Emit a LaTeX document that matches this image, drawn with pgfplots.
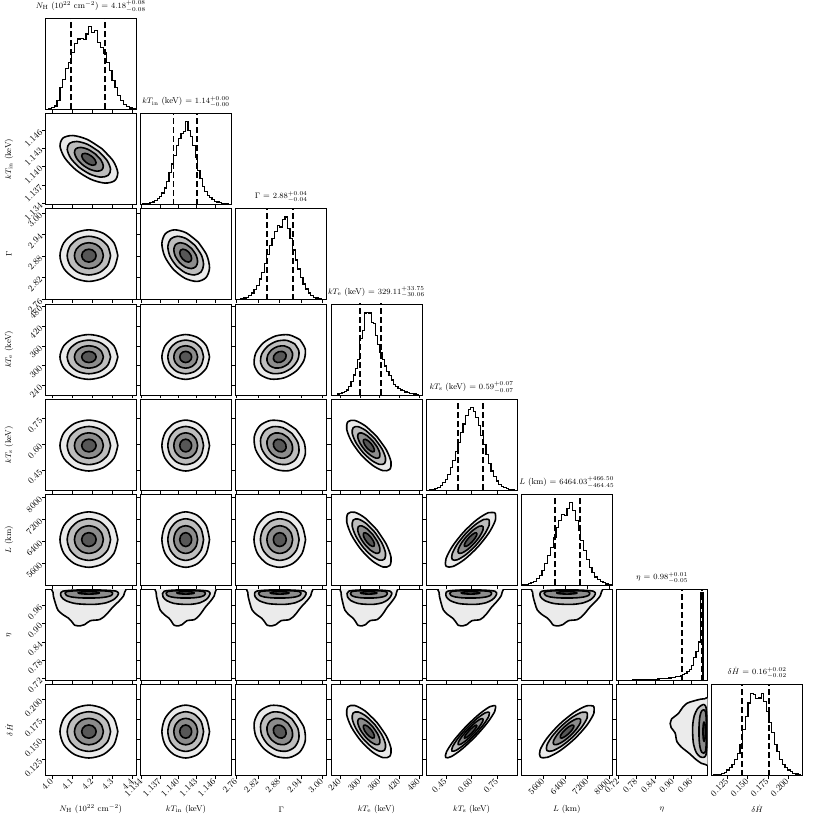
\documentclass[border=0pt]{standalone}
\usepackage{pgfplots}
\pgfplotsset{compat=1.18}
\usepackage{pgfplotstable}

% contour shapes in standardized units (levels 0.5,1,1.5,2 sigma), one table per correlation
\pgfplotstableread{
a b c d e f g h
0.5 0 1 0 1.5 0 2 0
0.433 0.25 0.866 0.5 1.299 0.75 1.732 1
0.25 0.433 0.5 0.866 0.75 1.299 1 1.732
0 0.5 0 1 0 1.5 0 2
-0.25 0.433 -0.5 0.866 -0.75 1.299 -1 1.732
-0.433 0.25 -0.866 0.5 -1.299 0.75 -1.732 1
-0.5 0 -1 0 -1.5 0 -2 0
-0.433 -0.25 -0.866 -0.5 -1.299 -0.75 -1.732 -1
-0.25 -0.433 -0.5 -0.866 -0.75 -1.299 -1 -1.732
0 -0.5 0 -1 0 -1.5 0 -2
0.25 -0.433 0.5 -0.866 0.75 -1.299 1 -1.732
0.433 -0.25 0.866 -0.5 1.299 -0.75 1.732 -1
0.5 0 1 0 1.5 0 2 0
}\rZ
\pgfplotstableread{
a b c d e f g h
0.387 0.387 0.775 0.775 1.162 1.162 1.55 1.55
0.177 0.494 0.355 0.987 0.532 1.481 0.71 1.974
-0.08 0.468 -0.16 0.935 -0.24 1.403 -0.32 1.87
-0.316 0.316 -0.632 0.632 -0.948 0.948 -1.264 1.264
-0.468 0.08 -0.935 0.16 -1.403 0.24 -1.87 0.32
-0.494 -0.177 -0.987 -0.355 -1.481 -0.532 -1.974 -0.71
-0.387 -0.387 -0.775 -0.775 -1.162 -1.162 -1.55 -1.55
-0.177 -0.494 -0.355 -0.987 -0.532 -1.481 -0.71 -1.974
0.08 -0.468 0.16 -0.935 0.24 -1.403 0.32 -1.87
0.316 -0.316 0.632 -0.632 0.948 -0.948 1.264 -1.264
0.468 -0.08 0.935 -0.16 1.403 -0.24 1.87 -0.32
0.494 0.177 0.987 0.355 1.481 0.532 1.974 0.71
0.387 0.387 0.775 0.775 1.162 1.162 1.55 1.55
}\rPa
\pgfplotstableread{
a b c d e f g h
0.316 0.316 0.632 0.632 0.948 0.948 1.264 1.264
0.08 0.468 0.16 0.935 0.24 1.403 0.32 1.87
-0.177 0.494 -0.355 0.987 -0.532 1.481 -0.71 1.974
-0.387 0.387 -0.775 0.775 -1.162 1.162 -1.55 1.55
-0.494 0.177 -0.987 0.355 -1.481 0.532 -1.974 0.71
-0.468 -0.08 -0.935 -0.16 -1.403 -0.24 -1.87 -0.32
-0.316 -0.316 -0.632 -0.632 -0.948 -0.948 -1.264 -1.264
-0.08 -0.468 -0.16 -0.935 -0.24 -1.403 -0.32 -1.87
0.177 -0.494 0.355 -0.987 0.532 -1.481 0.71 -1.974
0.387 -0.387 0.775 -0.775 1.162 -1.162 1.55 -1.55
0.494 -0.177 0.987 -0.355 1.481 -0.532 1.974 -0.71
0.468 0.08 0.935 0.16 1.403 0.24 1.87 0.32
0.316 0.316 0.632 0.632 0.948 0.948 1.264 1.264
}\rMa
\pgfplotstableread{
a b c d e f g h
0.262 0.262 0.524 0.524 0.786 0.786 1.048 1.048
0.014 0.44 0.028 0.88 0.042 1.32 0.056 1.76
-0.238 0.5 -0.475 1.0 -0.713 1.5 -0.95 2.0
-0.426 0.426 -0.852 0.852 -1.278 1.278 -1.704 1.704
-0.5 0.238 -1.0 0.475 -1.5 0.713 -2.0 0.95
-0.44 -0.014 -0.88 -0.028 -1.32 -0.042 -1.76 -0.056
-0.262 -0.262 -0.524 -0.524 -0.786 -0.786 -1.048 -1.048
-0.014 -0.44 -0.028 -0.88 -0.042 -1.32 -0.056 -1.76
0.238 -0.5 0.475 -1.0 0.713 -1.5 0.95 -2.0
0.426 -0.426 0.852 -0.852 1.278 -1.278 1.704 -1.704
0.5 -0.238 1.0 -0.475 1.5 -0.713 2.0 -0.95
0.44 0.014 0.88 0.028 1.32 0.042 1.76 0.056
0.262 0.262 0.524 0.524 0.786 0.786 1.048 1.048
}\rMb
\pgfplotstableread{
a b c d e f g h
0.224 0.224 0.447 0.447 0.671 0.671 0.894 0.894
-0.03 0.418 -0.06 0.835 -0.09 1.253 -0.12 1.67
-0.276 0.499 -0.551 0.998 -0.827 1.497 -1.102 1.996
-0.447 0.447 -0.894 0.894 -1.341 1.341 -1.788 1.788
-0.499 0.276 -0.998 0.551 -1.497 0.827 -1.996 1.102
-0.418 0.03 -0.835 0.06 -1.253 0.09 -1.67 0.12
-0.224 -0.224 -0.447 -0.447 -0.671 -0.671 -0.894 -0.894
0.03 -0.418 0.06 -0.835 0.09 -1.253 0.12 -1.67
0.276 -0.499 0.551 -0.998 0.827 -1.497 1.102 -1.996
0.447 -0.447 0.894 -0.894 1.341 -1.341 1.788 -1.788
0.499 -0.276 0.998 -0.551 1.497 -0.827 1.996 -1.102
0.418 -0.03 0.835 -0.06 1.253 -0.09 1.67 -0.12
0.224 0.224 0.447 0.447 0.671 0.671 0.894 0.894
}\rMc
\pgfplotstableread{
a b c d e f g h
0.177 0.177 0.354 0.354 0.531 0.531 0.708 0.708
-0.081 0.387 -0.162 0.774 -0.243 1.161 -0.324 1.548
-0.317 0.494 -0.633 0.987 -0.95 1.481 -1.266 1.974
-0.468 0.468 -0.935 0.935 -1.403 1.403 -1.87 1.87
-0.494 0.317 -0.987 0.633 -1.481 0.95 -1.974 1.266
-0.387 0.081 -0.774 0.162 -1.161 0.243 -1.548 0.324
-0.177 -0.177 -0.354 -0.354 -0.531 -0.531 -0.708 -0.708
0.081 -0.387 0.162 -0.774 0.243 -1.161 0.324 -1.548
0.317 -0.494 0.633 -0.987 0.95 -1.481 1.266 -1.974
0.468 -0.468 0.935 -0.935 1.403 -1.403 1.87 -1.87
0.494 -0.317 0.987 -0.633 1.481 -0.95 1.974 -1.266
0.387 -0.081 0.774 -0.162 1.161 -0.243 1.548 -0.324
0.177 0.177 0.354 0.354 0.531 0.531 0.708 0.708
}\rMd
\pgfplotstableread{
a b c d e f g h
0.481 0.481 0.962 0.962 1.443 1.443 1.924 1.924
0.348 0.485 0.696 0.97 1.044 1.455 1.392 1.94
0.122 0.359 0.244 0.718 0.366 1.077 0.488 1.436
-0.137 0.137 -0.274 0.274 -0.411 0.411 -0.548 0.548
-0.359 -0.122 -0.718 -0.244 -1.077 -0.366 -1.436 -0.488
-0.485 -0.348 -0.97 -0.696 -1.455 -1.044 -1.94 -1.392
-0.481 -0.481 -0.962 -0.962 -1.443 -1.443 -1.924 -1.924
-0.348 -0.485 -0.696 -0.97 -1.044 -1.455 -1.392 -1.94
-0.122 -0.359 -0.244 -0.718 -0.366 -1.077 -0.488 -1.436
0.137 -0.137 0.274 -0.274 0.411 -0.411 0.548 -0.548
0.359 0.122 0.718 0.244 1.077 0.366 1.436 0.488
0.485 0.348 0.97 0.696 1.455 1.044 1.94 1.392
0.481 0.481 0.962 0.962 1.443 1.443 1.924 1.924
}\rPb
\pgfplotstableread{
a b c d e f g h
0.491 0.491 0.982 0.982 1.473 1.473 1.964 1.964
0.379 0.472 0.757 0.944 1.136 1.416 1.514 1.888
0.165 0.327 0.329 0.653 0.494 0.98 0.658 1.306
-0.094 0.094 -0.187 0.187 -0.281 0.281 -0.374 0.374
-0.327 -0.165 -0.653 -0.329 -0.98 -0.494 -1.306 -0.658
-0.472 -0.379 -0.944 -0.757 -1.416 -1.136 -1.888 -1.514
-0.491 -0.491 -0.982 -0.982 -1.473 -1.473 -1.964 -1.964
-0.379 -0.472 -0.757 -0.944 -1.136 -1.416 -1.514 -1.888
-0.165 -0.327 -0.329 -0.653 -0.494 -0.98 -0.658 -1.306
0.094 -0.094 0.187 -0.187 0.281 -0.281 0.374 -0.374
0.327 0.165 0.653 0.329 0.98 0.494 1.306 0.658
0.472 0.379 0.944 0.757 1.416 1.136 1.888 1.514
0.491 0.491 0.982 0.982 1.473 1.473 1.964 1.964
}\rPc

% eta contours: u = standardized other parameter, e = eta
\pgfplotstableread{
u e
0.75 1.0015
0.65 1.0035
0.37 1.005
0 1.0055
-0.37 1.005
-0.65 1.0035
-0.75 1.0015
-0.65 0.9995
-0.37 0.998
0 0.9975
0.37 0.998
0.65 0.9995
0.75 1.0015
}\etaA
\pgfplotstableread{
u e
1.65 1.0
1.55 0.993
1.2 0.988
0.6 0.985
0 0.9845
-0.6 0.985
-1.2 0.988
-1.55 0.993
-1.65 1.0
-1.5 1.006
-0.8 1.0085
0 1.009
0.8 1.0085
1.5 1.006
1.65 1.0
}\etaB
\pgfplotstableread{
u e
2.05 0.999
1.95 0.99
1.7 0.979
1.2 0.969
0.5 0.964
-0.3 0.964
-1.0 0.967
-1.6 0.976
-1.9 0.988
-1.95 0.999
-1.8 1.007
-1.0 1.0105
0 1.011
1.0 1.0105
1.9 1.007
2.05 0.999
}\etaC
\pgfplotstableread{
u e
-2.48 1.004
-2.45 0.99
-2.3 0.965
-2.14 0.945
-1.8 0.93
-1.4 0.918
-1.15 0.905
-0.97 0.895
-0.6 0.893
-0.3 0.897
0.1 0.91
0.76 0.914
1.2 0.93
1.66 0.955
2.1 0.975
2.4 0.992
2.48 1.004
2.4 1.02
0 1.02
-2.4 1.02
-2.48 1.004
}\etaD
% delta H - eta panel: lobe lies above the centre
\pgfplotstableread{
u e
2.48 1.004
2.45 0.99
2.3 0.965
2.14 0.945
1.8 0.93
1.4 0.918
1.15 0.905
0.97 0.895
0.6 0.89
0.3 0.893
-0.1 0.906
-0.76 0.912
-1.2 0.928
-1.66 0.953
-2.1 0.974
-2.4 0.992
-2.48 1.004
-2.4 1.02
0 1.02
2.4 1.02
2.48 1.004
}\etaE

\pgfplotsset{
  cp/.style={anchor=north west, scale only axis, width=91pt, height=91pt,
    tick align=outside, tick pos=left, major tick length=3.5pt,
    tick style={black, line width=0.7pt}, axis line style={line width=0.8pt},
    ticklabel style={font=\fontsize{9}{10}\selectfont},
    xticklabel style={rotate=45, anchor=east, inner sep=1pt},
    yticklabel style={rotate=45, anchor=east, inner sep=1pt},
    label style={font=\fontsize{8.5}{10}\selectfont},
    title style={font=\fontsize{8.5}{10}\selectfont, inner sep=0pt},
    xlabel style={at={(axis description cs:0.5,-0.369)}, anchor=center},
    ylabel style={at={(axis description cs:-0.399,0.5)}, anchor=center}},
  hist/.style={ymin=0, ymax=1.1, ytick=\empty},
  nox/.style={xticklabels={}},
  noy/.style={yticklabels={}},
  xNH/.style={xmin=-3.014, xmax=3.278, xtick={-2.528,-1.139,0.25,1.639,3.028}, xticklabels={4.0,4.1,4.2,4.3,4.4}},
  xTin/.style={xmin=-3.795, xmax=3.846, xtick={-3.692,-2.154,-0.615,0.923,2.462}, xticklabels={1.134,1.137,1.140,1.143,1.146}},
  yTin/.style={ymin=-3.795, ymax=3.846, ytick={-3.692,-2.154,-0.615,0.923,2.462}, yticklabels={1.134,1.137,1.140,1.143,1.146}},
  xGam/.style={xmin=-3.417, xmax=3.639, xtick={-3.361,-1.694,-0.028,1.639,3.306}, xticklabels={2.76,2.82,2.88,2.94,3.00}},
  yGam/.style={ymin=-3.417, ymax=3.639, ytick={-3.361,-1.694,-0.028,1.639,3.306}, yticklabels={2.76,2.82,2.88,2.94,3.00}},
  xTe/.style={xmin=-3.388, xmax=4.735, xtick={-2.559,-0.794,0.971,2.735,4.5}, xticklabels={240,300,360,420,480}},
  yTe/.style={ymin=-3.388, ymax=4.735, ytick={-2.559,-0.794,0.971,2.735,4.5}, yticklabels={240,300,360,420,480}},
  xTs/.style={xmin=-3.5, xmax=3.649, xtick={-1.946,0.081,2.108}, xticklabels={0.45,0.60,0.75}},
  yTs/.style={ymin=-3.5, ymax=3.649, ytick={-1.946,0.081,2.108}, yticklabels={0.45,0.60,0.75}},
  xL/.style={xmin=-3.297, xmax=3.265, xtick={-1.683,-0.099,1.485,3.069}, xticklabels={5600,6400,7200,8000}},
  yL/.style={ymin=-3.297, ymax=3.265, ytick={-1.683,-0.099,1.485,3.069}, yticklabels={5600,6400,7200,8000}},
  xEta/.style={xmin=0.7135, xmax=1.0125, xtick={0.72,0.78,0.84,0.90,0.96}, xticklabels={0.72,0.78,0.84,0.90,0.96}},
  yEta/.style={ymin=0.7135, ymax=1.0125, ytick={0.72,0.78,0.84,0.90,0.96}, yticklabels={0.72,0.78,0.84,0.90,0.96}},
  xdH/.style={xmin=-3.339, xmax=3.545, xtick={-2.121,-0.606,0.909,2.424}, xticklabels={0.125,0.150,0.175,0.200}},
  ydH/.style={ymin=-3.339, ymax=3.545, ytick={-2.121,-0.606,0.909,2.424}, yticklabels={0.125,0.150,0.175,0.200}},
  cl/.style={draw=black, line width=1.6pt, line join=round},
  hl/.style={const plot, black, line width=1.2pt},
  dl/.style={black, line width=1.8pt, dash pattern=on 6pt off 3pt},
}

\newcommand{\cont}[1]{%
  \addplot[smooth, fill=black!8, cl] table[x=g,y=h]{#1};
  \addplot[smooth, fill=black!26, cl] table[x=e,y=f]{#1};
  \addplot[smooth, fill=black!45, cl] table[x=c,y=d]{#1};
  \addplot[smooth, fill=black!66, cl] table[x=a,y=b]{#1};
}
\newcommand{\etacont}[3]{%
  \addplot[smooth, fill=black!8, cl] table[x=#1,y=#2]{#3};
  \addplot[smooth, fill=black!26, cl] table[x=#1,y=#2]{\etaC};
  \addplot[smooth, fill=black!45, cl] table[x=#1,y=#2]{\etaB};
  \addplot[smooth, fill=black!66, cl] table[x=#1,y=#2]{\etaA};
}
\newcommand{\dq}[2]{%
  \addplot[dl] coordinates {(#1,0) (#1,2)};
  \addplot[dl] coordinates {(#2,0) (#2,2)};
}

\begin{document}
\begin{tikzpicture}
\useasboundingbox (0pt,0pt) rectangle (822pt,-822pt);

% ---------------- row 0
\begin{axis}[cp, at={(45.3pt,-18.3pt)}, hist, xNH, nox,
  title={$N_{\mathrm{H}}$ ($10^{22}$ cm$^{-2}$) = $4.18^{+0.08}_{-0.08}$}]
\addplot[hl] coordinates {(-2.8,0) (-2.8,0.01) (-2.6,0.02) (-2.4,0.04) (-2.2,0.11) (-2.0,0.26) (-1.8,0.36) (-1.6,0.49) (-1.4,0.57) (-1.2,0.69) (-1.0,0.80) (-0.8,0.85) (-0.6,0.86) (-0.4,0.84) (-0.2,0.91) (0,1.0) (0.2,0.93) (0.4,0.95) (0.6,0.81) (0.8,0.75) (1.0,0.68) (1.2,0.57) (1.4,0.47) (1.6,0.35) (1.8,0.26) (2.0,0.17) (2.2,0.11) (2.4,0.06) (2.6,0.03) (2.8,0.016) (3.0,0.008) (3.2,0.008) (3.2,0)};
\dq{-1.236}{1.125}
\end{axis}

% ---------------- row 1 (kT_in)
\begin{axis}[cp, at={(45.3pt,-113.5pt)}, xNH, yTin, nox, ylabel={$kT_{\mathrm{in}}$ (keV)}]
\cont{\rMc}
\end{axis}
\begin{axis}[cp, at={(140.5pt,-113.5pt)}, hist, xTin, nox,
  title={$kT_{\mathrm{in}}$ (keV) = $1.14^{+0.00}_{-0.00}$}]
\addplot[hl] coordinates {(-3.8,0) (-3.8,0.004) (-3.6,0.008) (-3.4,0.01) (-3.2,0.015) (-3.0,0.02) (-2.8,0.03) (-2.6,0.05) (-2.4,0.07) (-2.2,0.10) (-2.0,0.14) (-1.8,0.20) (-1.6,0.28) (-1.4,0.39) (-1.2,0.49) (-1.0,0.59) (-0.8,0.71) (-0.6,0.80) (-0.4,0.86) (-0.2,0.88) (0,1.0) (0.2,0.89) (0.4,0.82) (0.6,0.71) (0.8,0.57) (1.0,0.41) (1.2,0.31) (1.4,0.22) (1.6,0.16) (1.8,0.11) (2.0,0.08) (2.2,0.06) (2.4,0.04) (2.6,0.03) (2.8,0.02) (3.0,0.015) (3.2,0.01) (3.4,0.006) (3.6,0.004) (3.8,0.004) (3.8,0)};
\dq{-1.026}{0.949}
\end{axis}

% ---------------- row 2 (Gamma)
\begin{axis}[cp, at={(45.3pt,-208.7pt)}, xNH, yGam, nox, ylabel={$\Gamma$}]
\cont{\rZ}
\end{axis}
\begin{axis}[cp, at={(140.5pt,-208.7pt)}, xTin, yGam, nox, noy]
\cont{\rMb}
\end{axis}
\begin{axis}[cp, at={(235.7pt,-208.7pt)}, hist, xGam, nox,
  title={$\Gamma$ = $2.88^{+0.04}_{-0.04}$}]
\addplot[hl] coordinates {(-3.0,0) (-3.0,0.01) (-2.8,0.02) (-2.6,0.03) (-2.4,0.05) (-2.2,0.08) (-2.0,0.12) (-1.8,0.17) (-1.6,0.25) (-1.4,0.33) (-1.2,0.44) (-1.0,0.55) (-0.8,0.66) (-0.6,0.74) (-0.4,0.82) (-0.2,0.90) (0,0.88) (0.2,0.97) (0.4,1.0) (0.6,0.86) (0.8,0.74) (1.0,0.60) (1.2,0.48) (1.4,0.37) (1.6,0.27) (1.8,0.19) (2.0,0.13) (2.2,0.08) (2.4,0.05) (2.6,0.03) (2.8,0.02) (3.0,0.01) (3.2,0.005) (3.4,0.005) (3.4,0)};
\dq{-1.0}{1.05}
\end{axis}

% ---------------- row 3 (kT_e)
\begin{axis}[cp, at={(45.3pt,-303.9pt)}, xNH, yTe, nox, ylabel={$kT_{\mathrm{e}}$ (keV)}]
\cont{\rZ}
\end{axis}
\begin{axis}[cp, at={(140.5pt,-303.9pt)}, xTin, yTe, nox, noy]
\cont{\rZ}
\end{axis}
\begin{axis}[cp, at={(235.7pt,-303.9pt)}, xGam, yTe, nox, noy]
\cont{\rPa}
\end{axis}
\begin{axis}[cp, at={(330.9pt,-303.9pt)}, hist, xTe, nox,
  title={$kT_{\mathrm{e}}$ (keV) = $329.11^{+33.75}_{-30.06}$}]
\addplot[hl] coordinates {(-2.8,0) (-2.8,0.01) (-2.6,0.015) (-2.4,0.025) (-2.2,0.04) (-2.0,0.06) (-1.8,0.10) (-1.6,0.16) (-1.4,0.24) (-1.2,0.32) (-1.0,0.43) (-0.8,0.68) (-0.6,0.78) (-0.4,0.99) (-0.2,1.0) (0,0.99) (0.2,0.88) (0.4,0.86) (0.6,0.72) (0.8,0.61) (1.0,0.51) (1.2,0.43) (1.4,0.35) (1.6,0.28) (1.8,0.23) (2.0,0.18) (2.2,0.13) (2.4,0.10) (2.6,0.08) (2.8,0.06) (3.0,0.05) (3.2,0.035) (3.4,0.025) (3.6,0.02) (3.8,0.015) (4.0,0.01) (4.2,0.006) (4.4,0.006) (4.4,0)};
\dq{-0.822}{1.055}
\end{axis}

% ---------------- row 4 (kT_s)
\begin{axis}[cp, at={(45.3pt,-399.1pt)}, xNH, yTs, nox, ylabel={$kT_{\mathrm{s}}$ (keV)}]
\cont{\rZ}
\end{axis}
\begin{axis}[cp, at={(140.5pt,-399.1pt)}, xTin, yTs, nox, noy]
\cont{\rZ}
\end{axis}
\begin{axis}[cp, at={(235.7pt,-399.1pt)}, xGam, yTs, nox, noy]
\cont{\rMa}
\end{axis}
\begin{axis}[cp, at={(330.9pt,-399.1pt)}, xTe, yTs, nox, noy]
\cont{\rMd}
\end{axis}
\begin{axis}[cp, at={(426.1pt,-399.1pt)}, hist, xTs, nox,
  title={$kT_{\mathrm{s}}$ (keV) = $0.59^{+0.07}_{-0.07}$}]
\addplot[hl] coordinates {(-3.2,0) (-3.2,0.005) (-3.0,0.01) (-2.8,0.02) (-2.6,0.03) (-2.4,0.06) (-2.2,0.09) (-2.0,0.13) (-1.8,0.19) (-1.6,0.27) (-1.4,0.36) (-1.2,0.47) (-1.0,0.58) (-0.8,0.70) (-0.6,0.80) (-0.4,0.90) (-0.2,0.97) (0,1.0) (0.2,0.95) (0.4,0.88) (0.6,0.78) (0.8,0.66) (1.0,0.55) (1.2,0.43) (1.4,0.32) (1.6,0.23) (1.8,0.16) (2.0,0.11) (2.2,0.07) (2.4,0.045) (2.6,0.03) (2.8,0.02) (3.0,0.01) (3.2,0.005) (3.4,0.005) (3.4,0)};
\dq{-1.0}{0.95}
\end{axis}

% ---------------- row 5 (L)
\begin{axis}[cp, at={(45.3pt,-494.3pt)}, xNH, yL, nox, ylabel={$L$ (km)}]
\cont{\rZ}
\end{axis}
\begin{axis}[cp, at={(140.5pt,-494.3pt)}, xTin, yL, nox, noy]
\cont{\rZ}
\end{axis}
\begin{axis}[cp, at={(235.7pt,-494.3pt)}, xGam, yL, nox, noy]
\cont{\rZ}
\end{axis}
\begin{axis}[cp, at={(330.9pt,-494.3pt)}, xTe, yL, nox, noy]
\cont{\rMd}
\end{axis}
\begin{axis}[cp, at={(426.1pt,-494.3pt)}, xTs, yL, nox, noy]
\cont{\rPb}
\end{axis}
\begin{axis}[cp, at={(521.3pt,-494.3pt)}, hist, xL, nox,
  title={$L$ (km) = $6464.03^{+466.50}_{-464.45}$}]
\addplot[hl] coordinates {(-3.2,0) (-3.2,0.005) (-3.0,0.01) (-2.8,0.02) (-2.6,0.03) (-2.4,0.05) (-2.2,0.08) (-2.0,0.12) (-1.8,0.18) (-1.6,0.26) (-1.4,0.36) (-1.2,0.46) (-1.0,0.58) (-0.8,0.70) (-0.6,0.78) (-0.4,0.86) (-0.2,0.84) (0,0.93) (0.2,1.0) (0.4,0.90) (0.6,0.78) (0.8,0.66) (1.0,0.54) (1.2,0.42) (1.4,0.31) (1.6,0.22) (1.8,0.15) (2.0,0.10) (2.2,0.07) (2.4,0.045) (2.6,0.03) (2.8,0.015) (3.0,0.008) (3.2,0.008) (3.2,0)};
\dq{-0.891}{0.952}
\end{axis}

% ---------------- row 6 (eta)
\begin{axis}[cp, at={(45.3pt,-589.5pt)}, xNH, yEta, nox, ylabel={$\eta$}]
\etacont{u}{e}{\etaD}
\end{axis}
\begin{axis}[cp, at={(140.5pt,-589.5pt)}, xTin, yEta, nox, noy]
\etacont{u}{e}{\etaD}
\end{axis}
\begin{axis}[cp, at={(235.7pt,-589.5pt)}, xGam, yEta, nox, noy]
\etacont{u}{e}{\etaD}
\end{axis}
\begin{axis}[cp, at={(330.9pt,-589.5pt)}, xTe, yEta, nox, noy]
\etacont{u}{e}{\etaD}
\end{axis}
\begin{axis}[cp, at={(426.1pt,-589.5pt)}, xTs, yEta, nox, noy]
\etacont{u}{e}{\etaD}
\end{axis}
\begin{axis}[cp, at={(521.3pt,-589.5pt)}, xL, yEta, nox, noy]
\etacont{u}{e}{\etaD}
\end{axis}
\begin{axis}[cp, at={(616.5pt,-589.5pt)}, hist, ymax=1.04, xEta, nox,
  title={$\eta$ = $0.98^{+0.01}_{-0.05}$}]
\addplot[hl] coordinates {(0.72,0) (0.72,0.002) (0.7275,0.002) (0.735,0.003) (0.7425,0.003) (0.75,0.004) (0.7575,0.004) (0.765,0.005) (0.7725,0.005) (0.78,0.006) (0.7875,0.007) (0.795,0.008) (0.8025,0.009) (0.81,0.010) (0.8175,0.011) (0.825,0.012) (0.8325,0.013) (0.84,0.015) (0.8475,0.017) (0.855,0.019) (0.8625,0.021) (0.87,0.023) (0.8775,0.026) (0.885,0.029) (0.8925,0.033) (0.90,0.037) (0.9075,0.042) (0.915,0.048) (0.9225,0.055) (0.93,0.065) (0.9375,0.078) (0.945,0.10) (0.9525,0.13) (0.96,0.17) (0.9675,0.26) (0.975,0.33) (0.9825,0.44) (0.99,1.0) (0.9975,1.0) (0.9975,0)};
\dq{0.9285}{0.995}
\end{axis}

% ---------------- row 7 (delta H)
\begin{axis}[cp, at={(45.3pt,-684.7pt)}, xNH, ydH, ylabel={$\delta\dot{H}$}, xlabel={$N_{\mathrm{H}}$ ($10^{22}$ cm$^{-2}$)}]
\cont{\rZ}
\end{axis}
\begin{axis}[cp, at={(140.5pt,-684.7pt)}, xTin, ydH, noy, xlabel={$kT_{\mathrm{in}}$ (keV)}]
\cont{\rZ}
\end{axis}
\begin{axis}[cp, at={(235.7pt,-684.7pt)}, xGam, ydH, noy, xlabel={$\Gamma$}]
\cont{\rMa}
\end{axis}
\begin{axis}[cp, at={(330.9pt,-684.7pt)}, xTe, ydH, noy, xlabel={$kT_{\mathrm{e}}$ (keV)}]
\cont{\rMd}
\end{axis}
\begin{axis}[cp, at={(426.1pt,-684.7pt)}, xTs, ydH, noy, xlabel={$kT_{\mathrm{s}}$ (keV)}]
\cont{\rPc}
\end{axis}
\begin{axis}[cp, at={(521.3pt,-684.7pt)}, xL, ydH, noy, xlabel={$L$ (km)}]
\cont{\rPb}
\end{axis}
\begin{axis}[cp, at={(616.5pt,-684.7pt)}, xEta, ydH, noy, xlabel={$\eta$}]
\etacont{e}{u}{\etaE}
\end{axis}
\begin{axis}[cp, at={(711.7pt,-684.7pt)}, hist, xdH, xlabel={$\delta\dot{H}$},
  title={$\delta\dot{H}$ = $0.16^{+0.02}_{-0.02}$}]
\addplot[hl] coordinates {(-3.2,0) (-3.2,0.008) (-3.0,0.012) (-2.8,0.018) (-2.6,0.024) (-2.4,0.04) (-2.2,0.07) (-2.0,0.10) (-1.8,0.14) (-1.6,0.20) (-1.4,0.27) (-1.2,0.38) (-1.0,0.56) (-0.8,0.72) (-0.6,0.88) (-0.4,0.99) (-0.2,0.98) (0,0.93) (0.2,0.94) (0.4,0.99) (0.6,0.90) (0.8,0.78) (1.0,0.64) (1.2,0.52) (1.4,0.38) (1.6,0.29) (1.8,0.20) (2.0,0.14) (2.2,0.10) (2.4,0.07) (2.6,0.05) (2.8,0.03) (3.0,0.02) (3.2,0.012) (3.4,0.012) (3.4,0)};
\dq{-1.06}{1.02}
\end{axis}
\end{tikzpicture}
\end{document}
